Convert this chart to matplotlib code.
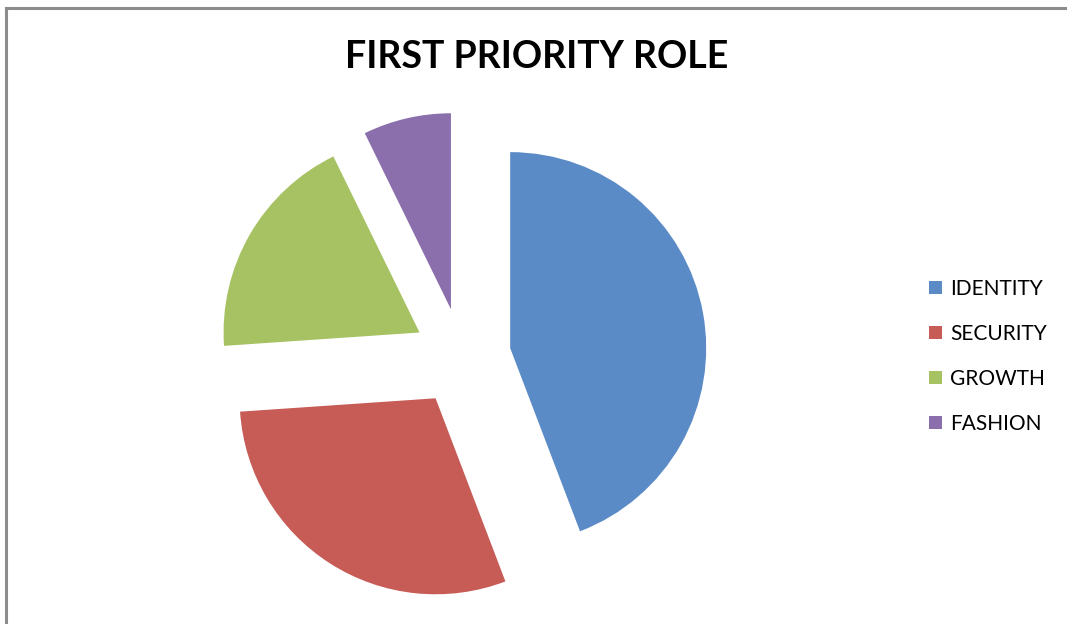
import matplotlib
matplotlib.use("Agg")
import matplotlib.pyplot as plt
from matplotlib.lines import Line2D

# Survey answers: first priority role
roles = ["IDENTITY", "SECURITY", "GROWTH", "FASHION"]
counts = [61, 41, 26, 10]
colors = ["#5A8BC6", "#C75B56", "#A6C263", "#8B6FAD"]

W, H = 1067, 624
fig = plt.figure(figsize=(W / 100, H / 100), dpi=100)
fig.patch.set_facecolor("white")

# pie centre and radius in pixels
cx, cy, r = 462, 624 - 357, 196
ax = fig.add_axes([0, 0, 1, 1])
wedges, _ = ax.pie(counts, colors=colors, startangle=90, counterclock=False,
                   explode=[0.25] * 4, radius=1,
                   wedgeprops=dict(linewidth=0))
ax.set_xlim(-cx / r, (W - cx) / r)
ax.set_ylim(-cy / r, (H - cy) / r)
ax.set_aspect("equal")
ax.axis("off")

fig.text(537 / W, 1 - 57 / H, "FIRST PRIORITY ROLE", ha="center", va="center",
         fontsize=27, fontweight="bold", family="Lato", color="black")

ax.legend(wedges, roles, loc="center left",
          bbox_to_anchor=(929 / W, 1 - 356.5 / H), bbox_transform=fig.transFigure,
          frameon=False, prop=dict(family="Lato", size=15),
          handlelength=0.6, handleheight=0.6, handletextpad=0.4,
          labelspacing=1.2, borderpad=0, borderaxespad=0)

# chart area border (top and left edges)
fig.add_artist(Line2D([6 / W, 1], [1 - 8 / H, 1 - 8 / H], transform=fig.transFigure,
                      color="#8C8C8C", linewidth=2.2))
fig.add_artist(Line2D([6 / W, 6 / W], [0, 1 - 8 / H], transform=fig.transFigure,
                      color="#8C8C8C", linewidth=2.2))

fig.savefig("out.png", dpi=100, facecolor="white")
